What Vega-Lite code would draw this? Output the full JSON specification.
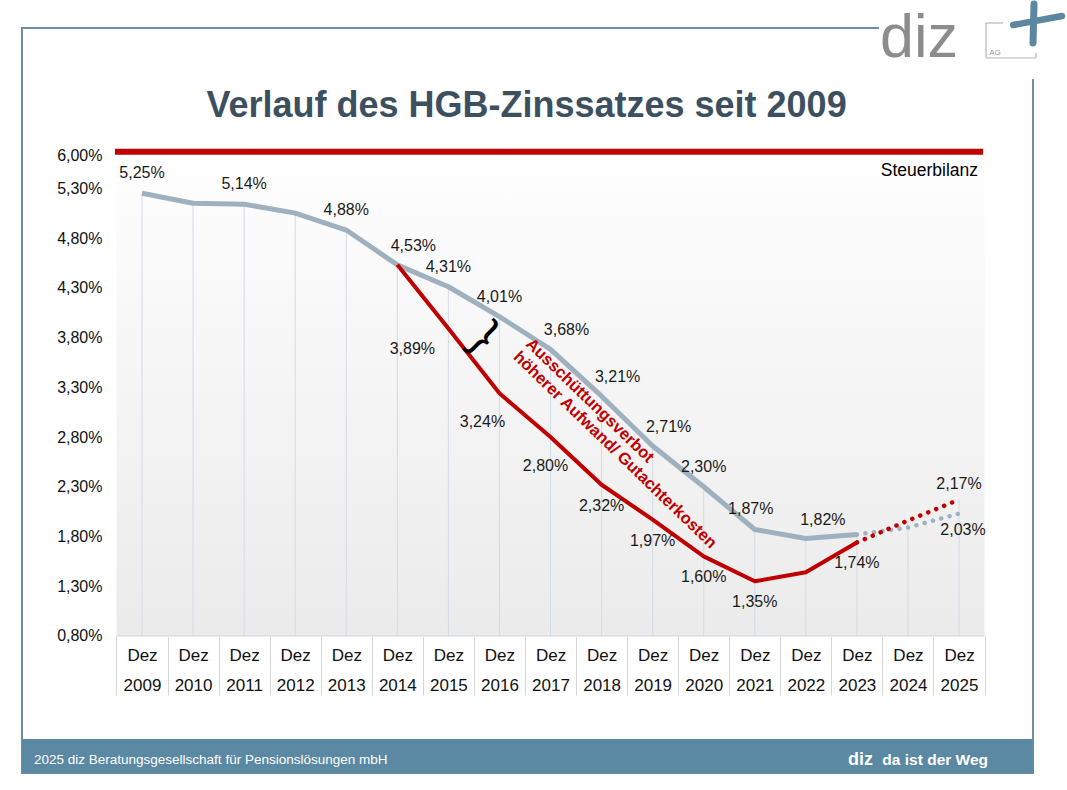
{
  "$schema": "https://vega.github.io/schema/vega-lite/v6.json",
  "width": 1011,
  "height": 745,
  "autosize": {"type": "none"},
  "padding": {"left": 22, "top": 28, "right": 34, "bottom": 17},
  "background": "#ffffff",
  "config": {
    "font": "Liberation Sans",
    "view": {"stroke": "#6f8ea3", "strokeWidth": 2},
    "locale": {"number": {"decimal": ",", "thousands": ".", "grouping": [3], "currency": ["", " €"]}}
  },
  "datasets": {
    "rates": [
      {"year": 2009, "series": "10-Jahres-Durchschnitt", "rate": 0.0525},
      {"year": 2010, "series": "10-Jahres-Durchschnitt", "rate": 0.0515},
      {"year": 2011, "series": "10-Jahres-Durchschnitt", "rate": 0.0514},
      {"year": 2012, "series": "10-Jahres-Durchschnitt", "rate": 0.0505},
      {"year": 2013, "series": "10-Jahres-Durchschnitt", "rate": 0.0488},
      {"year": 2014, "series": "10-Jahres-Durchschnitt", "rate": 0.0453},
      {"year": 2015, "series": "10-Jahres-Durchschnitt", "rate": 0.0431},
      {"year": 2016, "series": "10-Jahres-Durchschnitt", "rate": 0.0401},
      {"year": 2017, "series": "10-Jahres-Durchschnitt", "rate": 0.0368},
      {"year": 2018, "series": "10-Jahres-Durchschnitt", "rate": 0.0321},
      {"year": 2019, "series": "10-Jahres-Durchschnitt", "rate": 0.0271},
      {"year": 2020, "series": "10-Jahres-Durchschnitt", "rate": 0.0230},
      {"year": 2021, "series": "10-Jahres-Durchschnitt", "rate": 0.0187},
      {"year": 2022, "series": "10-Jahres-Durchschnitt", "rate": 0.0178},
      {"year": 2023, "series": "10-Jahres-Durchschnitt", "rate": 0.0182},
      {"year": 2024, "series": "10-Jahres-Durchschnitt", "rate": 0.0189},
      {"year": 2025, "series": "10-Jahres-Durchschnitt", "rate": 0.0203},
      {"year": 2014, "series": "7-Jahres-Durchschnitt", "rate": 0.0453},
      {"year": 2015, "series": "7-Jahres-Durchschnitt", "rate": 0.0389},
      {"year": 2016, "series": "7-Jahres-Durchschnitt", "rate": 0.0324},
      {"year": 2017, "series": "7-Jahres-Durchschnitt", "rate": 0.0280},
      {"year": 2018, "series": "7-Jahres-Durchschnitt", "rate": 0.0232},
      {"year": 2019, "series": "7-Jahres-Durchschnitt", "rate": 0.0197},
      {"year": 2020, "series": "7-Jahres-Durchschnitt", "rate": 0.0160},
      {"year": 2021, "series": "7-Jahres-Durchschnitt", "rate": 0.0135},
      {"year": 2022, "series": "7-Jahres-Durchschnitt", "rate": 0.0144},
      {"year": 2023, "series": "7-Jahres-Durchschnitt", "rate": 0.0174},
      {"year": 2024, "series": "7-Jahres-Durchschnitt", "rate": 0.0196},
      {"year": 2025, "series": "7-Jahres-Durchschnitt", "rate": 0.0217}
    ]
  },
  "data": {"name": "rates"},
  "layer": [
    {
      "data": {"values": [{}]},
      "mark": {"type": "rect", "fill": {"gradient": "linear", "x1": 0, "y1": 0, "x2": 0, "y2": 1, "stops": [{"offset": 0, "color": "#ffffff"}, {"offset": 1, "color": "#ebebeb"}]}},
      "encoding": {
        "x": {"datum": 2008.5, "type": "quantitative", "scale": {"domain": [2006.64994, 2026.4486], "nice": false, "zero": false}},
        "x2": {"datum": 2025.5},
        "y": {"datum": 0.008, "type": "quantitative", "scale": {"domain": [-0.005769, 0.069106], "nice": false, "zero": false}},
        "y2": {"datum": 0.058}
      }
    },
    {
      "mark": {"type": "rule", "color": "#d3dbe4", "strokeWidth": 1},
      "encoding": {
        "x": {
          "field": "year", "type": "quantitative",
          "scale": {"domain": [2006.64994, 2026.4486], "nice": false, "zero": false},
          "axis": {
            "title": null, "orient": "bottom", "offset": -137,
            "values": [2008.5, 2009.5, 2010.5, 2011.5, 2012.5, 2013.5, 2014.5, 2015.5, 2016.5, 2017.5, 2018.5, 2019.5, 2020.5, 2021.5, 2022.5, 2023.5, 2024.5, 2025.5],
            "domain": false, "grid": false, "ticks": true, "tickSize": 59, "tickColor": "#d6d6d6", "tickWidth": 1,
            "labelExpr": "datum.value > 2025 ? '' : ['Dez', '' + (datum.value + 0.5)]",
            "labelOffset": 25.53, "labelPadding": -48, "labelFontSize": 17, "labelColor": "#111111",
            "labelLineHeight": 30, "labelFlush": false, "labelOverlap": false, "labelBound": false,
            "labelAlign": "center", "labelBaseline": "top"
          }
        },
        "y": {
          "aggregate": "max", "field": "rate", "type": "quantitative",
          "scale": {"domain": [-0.005769, 0.069106], "nice": false, "zero": false},
          "axis": {
            "title": null, "orient": "left", "offset": -94,
            "values": [0.008, 0.013, 0.018, 0.023, 0.028, 0.033, 0.038, 0.043, 0.048, 0.053, 0.05634],
            "format": ".2%",
            "labelExpr": "datum.value > 0.055 ? '6,00%' : datum.label",
            "domain": false, "ticks": false, "grid": false, "labelPadding": 14,
            "labelFontSize": 16, "labelColor": "#111111", "labelFlush": false, "labelOverlap": false, "labelBound": false
          }
        },
        "y2": {"datum": 0.008}
      }
    },
    {
      "data": {"values": [{}]},
      "mark": {"type": "rule", "color": "#d6d6d6", "strokeWidth": 1},
      "encoding": {"x": {"datum": 2008.5}, "x2": {"datum": 2025.5}, "y": {"datum": 0.008}}
    },
    {
      "data": {"values": [{}]},
      "mark": {"type": "rule", "color": "#c00000", "strokeWidth": 6},
      "encoding": {"x": {"datum": 2008.47}, "x2": {"datum": 2025.47}, "y": {"datum": 0.056663}}
    },
    {
      "transform": [{"filter": "datum.series == '10-Jahres-Durchschnitt' && datum.year <= 2023"}],
      "mark": {"type": "line", "color": "#9fb1bf", "strokeWidth": 5, "strokeJoin": "round"},
      "encoding": {"x": {"field": "year", "type": "quantitative"}, "y": {"field": "rate", "type": "quantitative"}}
    },
    {
      "transform": [{"filter": "datum.series == '10-Jahres-Durchschnitt' && datum.year >= 2023"}],
      "mark": {"type": "line", "color": "#9fb1bf", "strokeWidth": 4.5, "strokeCap": "round", "strokeDash": [0.1, 8.5]},
      "encoding": {"x": {"field": "year", "type": "quantitative"}, "y": {"field": "rate", "type": "quantitative"}}
    },
    {
      "transform": [{"filter": "datum.series == '7-Jahres-Durchschnitt' && datum.year <= 2023"}],
      "mark": {"type": "line", "color": "#c00000", "strokeWidth": 4, "strokeJoin": "round"},
      "encoding": {"x": {"field": "year", "type": "quantitative"}, "y": {"field": "rate", "type": "quantitative"}}
    },
    {
      "transform": [{"filter": "datum.series == '7-Jahres-Durchschnitt' && datum.year >= 2023"}],
      "mark": {"type": "line", "color": "#c00000", "strokeWidth": 4.5, "strokeCap": "round", "strokeDash": [0.1, 8.5]},
      "encoding": {"x": {"field": "year", "type": "quantitative"}, "y": {"field": "rate", "type": "quantitative"}}
    },
    {
      "transform": [{"filter": {"and": [{"field": "series", "equal": "10-Jahres-Durchschnitt"}, {"field": "year", "oneOf": [2009, 2011, 2013, 2015, 2016, 2020]}]}}],
      "mark": {"type": "text", "fontSize": 16, "color": "#1a1a1a", "dy": -20, "baseline": "middle"},
      "encoding": {"x": {"field": "year", "type": "quantitative"}, "y": {"field": "rate", "type": "quantitative"}, "text": {"field": "rate", "type": "quantitative", "format": ".2%"}}
    },
    {
      "transform": [{"filter": {"and": [{"field": "series", "equal": "10-Jahres-Durchschnitt"}, {"field": "year", "oneOf": [2021]}]}}],
      "mark": {"type": "text", "fontSize": 16, "color": "#1a1a1a", "dx": -4, "dy": -21, "baseline": "middle"},
      "encoding": {"x": {"field": "year", "type": "quantitative"}, "y": {"field": "rate", "type": "quantitative"}, "text": {"field": "rate", "type": "quantitative", "format": ".2%"}}
    },
    {
      "transform": [{"filter": {"and": [{"field": "series", "equal": "10-Jahres-Durchschnitt"}, {"field": "year", "oneOf": [2014, 2017, 2018, 2019]}]}}],
      "mark": {"type": "text", "fontSize": 16, "color": "#1a1a1a", "dx": 16, "dy": -19, "baseline": "middle"},
      "encoding": {"x": {"field": "year", "type": "quantitative"}, "y": {"field": "rate", "type": "quantitative"}, "text": {"field": "rate", "type": "quantitative", "format": ".2%"}}
    },
    {
      "transform": [{"filter": {"and": [{"field": "series", "equal": "10-Jahres-Durchschnitt"}, {"field": "year", "oneOf": [2023]}]}}],
      "mark": {"type": "text", "fontSize": 16, "color": "#1a1a1a", "dx": -34, "dy": -15, "baseline": "middle"},
      "encoding": {"x": {"field": "year", "type": "quantitative"}, "y": {"field": "rate", "type": "quantitative"}, "text": {"field": "rate", "type": "quantitative", "format": ".2%"}}
    },
    {
      "transform": [{"filter": {"and": [{"field": "series", "equal": "10-Jahres-Durchschnitt"}, {"field": "year", "oneOf": [2025]}]}}],
      "mark": {"type": "text", "fontSize": 16, "color": "#1a1a1a", "dx": 4, "dy": 16, "baseline": "middle"},
      "encoding": {"x": {"field": "year", "type": "quantitative"}, "y": {"field": "rate", "type": "quantitative"}, "text": {"field": "rate", "type": "quantitative", "format": ".2%"}}
    },
    {
      "transform": [{"filter": {"and": [{"field": "series", "equal": "7-Jahres-Durchschnitt"}, {"field": "year", "oneOf": [2018, 2019, 2020, 2021, 2023]}]}}],
      "mark": {"type": "text", "fontSize": 16, "color": "#1a1a1a", "dy": 21, "baseline": "middle"},
      "encoding": {"x": {"field": "year", "type": "quantitative"}, "y": {"field": "rate", "type": "quantitative"}, "text": {"field": "rate", "type": "quantitative", "format": ".2%"}}
    },
    {
      "transform": [{"filter": {"and": [{"field": "series", "equal": "7-Jahres-Durchschnitt"}, {"field": "year", "oneOf": [2015]}]}}],
      "mark": {"type": "text", "fontSize": 16, "color": "#1a1a1a", "dx": -36, "dy": 20, "baseline": "middle"},
      "encoding": {"x": {"field": "year", "type": "quantitative"}, "y": {"field": "rate", "type": "quantitative"}, "text": {"field": "rate", "type": "quantitative", "format": ".2%"}}
    },
    {
      "transform": [{"filter": {"and": [{"field": "series", "equal": "7-Jahres-Durchschnitt"}, {"field": "year", "oneOf": [2016]}]}}],
      "mark": {"type": "text", "fontSize": 16, "color": "#1a1a1a", "dx": -17, "dy": 29, "baseline": "middle"},
      "encoding": {"x": {"field": "year", "type": "quantitative"}, "y": {"field": "rate", "type": "quantitative"}, "text": {"field": "rate", "type": "quantitative", "format": ".2%"}}
    },
    {
      "transform": [{"filter": {"and": [{"field": "series", "equal": "7-Jahres-Durchschnitt"}, {"field": "year", "oneOf": [2017]}]}}],
      "mark": {"type": "text", "fontSize": 16, "color": "#1a1a1a", "dx": -5, "dy": 29, "baseline": "middle"},
      "encoding": {"x": {"field": "year", "type": "quantitative"}, "y": {"field": "rate", "type": "quantitative"}, "text": {"field": "rate", "type": "quantitative", "format": ".2%"}}
    },
    {
      "transform": [{"filter": {"and": [{"field": "series", "equal": "7-Jahres-Durchschnitt"}, {"field": "year", "oneOf": [2025]}]}}],
      "mark": {"type": "text", "fontSize": 16, "color": "#1a1a1a", "dy": -16, "baseline": "middle"},
      "encoding": {"x": {"field": "year", "type": "quantitative"}, "y": {"field": "rate", "type": "quantitative"}, "text": {"field": "rate", "type": "quantitative", "format": ".2%"}}
    },
    {
      "data": {"values": [{}]},
      "mark": {"type": "text", "text": "Steuerbilanz", "fontSize": 17.5, "color": "#000000", "align": "right", "baseline": "alphabetic"},
      "encoding": {"x": {"datum": 2025.372}, "y": {"datum": 0.054231}}
    },
    {
      "data": {"values": [{}]},
      "mark": {"type": "text", "text": "}", "fontSize": 48, "color": "#000000", "align": "center", "baseline": "middle", "angle": 45},
      "encoding": {"x": {"datum": 2015.70}, "y": {"datum": 0.0380}}
    },
    {
      "data": {"values": [{}]},
      "mark": {"type": "text", "text": ["Ausschüttungsverbot", "höherer Aufwand/ Gutachterkosten"], "fontSize": 16.5, "fontWeight": "bold", "color": "#c00000", "align": "left", "baseline": "alphabetic", "angle": 44, "lineHeight": 18},
      "encoding": {"x": {"datum": 2016.50}, "y": {"datum": 0.037246}}
    },
    {
      "data": {"values": [{}]},
      "mark": {"type": "text", "text": "Verlauf des HGB-Zinssatzes seit 2009", "fontSize": 36, "fontWeight": "bold", "color": "#3d5060", "align": "center", "baseline": "alphabetic"},
      "encoding": {"x": {"datum": 2016.53}, "y": {"datum": 0.060131}}
    },
    {
      "data": {"values": [{}]},
      "mark": {"type": "rect", "fill": "#ffffff"},
      "encoding": {"x": {"datum": 2023.4335}, "x2": {"datum": 2026.5863}, "y": {"datum": 0.07192}, "y2": {"datum": 0.06398}}
    },
    {
      "data": {"values": [{}]},
      "mark": {"type": "text", "text": "diz", "fontSize": 61, "color": "#8c8c8c", "align": "left", "baseline": "alphabetic"},
      "encoding": {"x": {"datum": 2023.453}, "y": {"datum": 0.066191}}
    },
    {
      "data": {"values": [{}]},
      "mark": {"type": "rule", "color": "#b5b5b5", "strokeWidth": 1.2},
      "encoding": {"x": {"datum": 2025.5285}, "y": {"datum": 0.069608}, "y2": {"datum": 0.06609}}
    },
    {
      "data": {"values": [{}]},
      "mark": {"type": "rule", "color": "#b5b5b5", "strokeWidth": 1.2},
      "encoding": {"x": {"datum": 2025.5285}, "x2": {"datum": 2025.8615}, "y": {"datum": 0.069608}}
    },
    {
      "data": {"values": [{}]},
      "mark": {"type": "rule", "color": "#b5b5b5", "strokeWidth": 1.2},
      "encoding": {"x": {"datum": 2025.5285}, "x2": {"datum": 2026.5077}, "y": {"datum": 0.06609}}
    },
    {
      "data": {"values": [{}]},
      "mark": {"type": "rule", "color": "#b5b5b5", "strokeWidth": 1.2},
      "encoding": {"x": {"datum": 2026.5077}, "y": {"datum": 0.066593}, "y2": {"datum": 0.06609}}
    },
    {
      "data": {"values": [{}]},
      "mark": {"type": "text", "text": "AG", "fontSize": 8, "color": "#999999", "align": "center", "baseline": "middle"},
      "encoding": {"x": {"datum": 2025.7054}, "y": {"datum": 0.066593}}
    },
    {
      "data": {"values": [{}]},
      "mark": {"type": "rule", "color": "#5b87a0", "strokeWidth": 6.5, "strokeCap": "round"},
      "encoding": {"x": {"datum": 2026.0577}, "x2": {"datum": 2027.0165}, "y": {"datum": 0.069407}, "y2": {"datum": 0.070312}}
    },
    {
      "data": {"values": [{}]},
      "mark": {"type": "rule", "color": "#5b87a0", "strokeWidth": 7, "strokeCap": "round"},
      "encoding": {"x": {"datum": 2026.4688}, "x2": {"datum": 2026.4492}, "y": {"datum": 0.071518}, "y2": {"datum": 0.067598}}
    },
    {
      "data": {"values": [{}]},
      "mark": {"type": "rect", "fill": "#5b88a2"},
      "encoding": {"x": {"datum": 2006.64994}, "x2": {"datum": 2026.4486}, "y": {"datum": -0.0023518}, "y2": {"datum": -0.005769}}
    },
    {
      "data": {"values": [{}]},
      "mark": {"type": "text", "text": "2025 diz Beratungsgesellschaft für Pensionslösungen mbH", "fontSize": 13.5, "color": "#ffffff", "align": "left", "baseline": "alphabetic"},
      "encoding": {"x": {"datum": 2006.885}, "y": {"datum": -0.0048643}}
    },
    {
      "data": {"values": [{}]},
      "mark": {"type": "text", "text": "diz", "fontSize": 18, "fontWeight": "bold", "color": "#ffffff", "align": "right", "baseline": "alphabetic"},
      "encoding": {"x": {"datum": 2023.3159}, "y": {"datum": -0.0049648}}
    },
    {
      "data": {"values": [{}]},
      "mark": {"type": "text", "text": "da ist der Weg", "fontSize": 15.5, "fontWeight": "bold", "color": "#ffffff", "align": "right", "baseline": "alphabetic"},
      "encoding": {"x": {"datum": 2025.5679}, "y": {"datum": -0.0049648}}
    }
  ]
}
